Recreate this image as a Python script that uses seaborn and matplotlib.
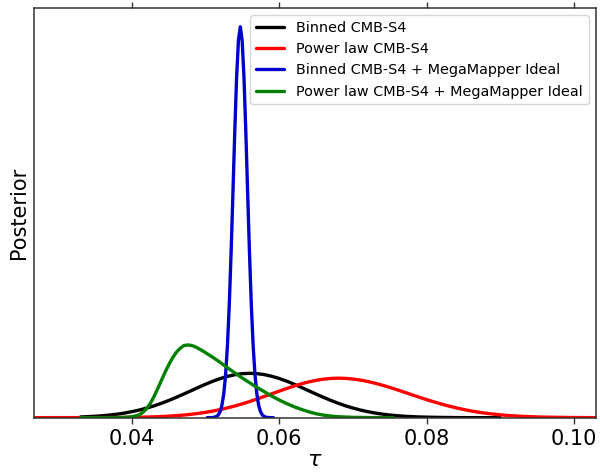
import numpy as np
import pandas as pd
import matplotlib
matplotlib.use("Agg")
import matplotlib.pyplot as plt
import seaborn as sns

# ---- data (posterior, normalised to blue peak) ----
labels = ["Binned CMB-S4", "Power law CMB-S4",
          "Binned CMB-S4 + MegaMapper Ideal",
          "Power law CMB-S4 + MegaMapper Ideal"]
colors = ["black", "red", "#0000cc", "green"]

black_x = [0.033 + 0.001 * i for i in range(58)]
black_y = [0.0018, 0.0026, 0.0036, 0.0050, 0.0068, 0.0090, 0.0119, 0.0154, 0.0196, 0.0246,
           0.0303, 0.0369, 0.0441, 0.0520, 0.0603, 0.0688, 0.0774, 0.0857, 0.0934, 0.1002,
           0.1058, 0.1100, 0.1126, 0.1135, 0.1126, 0.1100, 0.1058, 0.1002, 0.0934, 0.0857,
           0.0774, 0.0688, 0.0603, 0.0520, 0.0441, 0.0369, 0.0303, 0.0246, 0.0196, 0.0154,
           0.0119, 0.0090, 0.0068, 0.0050, 0.0036, 0.0026, 0.0018, 0.0013, 0.0009, 0.0006,
           0.0004, 0.0002, 0.0001, 0.0, 0.0, 0.0, 0.0, 0.0]

red_x = [0.0267] + [0.036 + 0.001 * i for i in range(65)] + [0.103]
red_y = [0.0,
         0.0002, 0.0003, 0.0004, 0.0006, 0.0008, 0.0011, 0.0016, 0.0021, 0.0029, 0.0039,
         0.0051, 0.0066, 0.0086, 0.0109, 0.0137, 0.0170, 0.0208, 0.0252, 0.0301, 0.0356,
         0.0415, 0.0479, 0.0545, 0.0613, 0.0680, 0.0746, 0.0809, 0.0866, 0.0915, 0.0955,
         0.0985, 0.1004, 0.1010, 0.1005, 0.0988, 0.0962, 0.0926, 0.0882, 0.0831, 0.0774,
         0.0714, 0.0651, 0.0587, 0.0524, 0.0462, 0.0404, 0.0349, 0.0298, 0.0252, 0.0211,
         0.0174, 0.0142, 0.0115, 0.0092, 0.0073, 0.0057, 0.0044, 0.0034, 0.0026, 0.0019,
         0.0014, 0.0011, 0.0008, 0.0005, 0.0004,
         0.0]

blue_x = [0.0502 + 0.00025 * i for i in range(37)]
blue_y = [0.0, 0.0, 0.0001, 0.0004, 0.0011, 0.0029, 0.0068, 0.0151, 0.0313, 0.0605,
          0.109, 0.183, 0.287, 0.421, 0.575, 0.732, 0.871, 0.966, 1.0,
          0.966, 0.871, 0.732, 0.575, 0.421, 0.287, 0.183, 0.109, 0.0605, 0.0313,
          0.0151, 0.0068, 0.0029, 0.0011, 0.0004, 0.0001, 0.0, 0.0]

green_x = [0.033, 0.036, 0.038, 0.039, 0.0395, 0.040, 0.0405, 0.041, 0.0415, 0.042,
           0.0425, 0.043, 0.0435, 0.044, 0.0445, 0.045, 0.0455, 0.046, 0.0465, 0.047,
           0.0475, 0.048, 0.0485, 0.049, 0.0495, 0.050, 0.051, 0.052, 0.053, 0.054,
           0.055, 0.056, 0.057, 0.058, 0.059, 0.060, 0.061, 0.062, 0.063, 0.064,
           0.065, 0.066, 0.067, 0.068, 0.069, 0.070, 0.072, 0.0755]
green_y = [0.0, 0.0, 0.0003, 0.0008, 0.0015, 0.0025, 0.0045, 0.0075, 0.014, 0.024,
           0.037, 0.055, 0.075, 0.096, 0.117, 0.136, 0.153, 0.167, 0.177, 0.184,
           0.186, 0.185, 0.182, 0.177, 0.172, 0.166, 0.154, 0.141, 0.127, 0.114,
           0.101, 0.089, 0.077, 0.066, 0.055, 0.045, 0.036, 0.028, 0.021, 0.015,
           0.010, 0.0065, 0.004, 0.0025, 0.0015, 0.0008, 0.0003, 0.0]

xticks = [0.04, 0.06, 0.08, 0.10]
xtick_labels = ["0.04", "0.06", "0.08", "0.10"]

# ---- plot ----
sns.set_style("white")
plt.rcParams["font.family"] = ["DejaVu Sans"]
plt.rcParams["text.color"] = "black"
plt.rcParams["axes.labelcolor"] = "black"
plt.rcParams["xtick.color"] = "black"

fig = plt.figure(figsize=(6.0, 4.73), dpi=100)
ax = fig.add_axes([0.057, 0.117, 0.936, 0.866])

series = [(black_x, black_y), (red_x, red_y), (blue_x, blue_y), (green_x, green_y)]
for (xs, ys), lab, col in zip(series, labels, colors):
    df = pd.DataFrame({"tau": xs, "post": ys})
    sns.lineplot(data=df, x="tau", y="post", ax=ax, color=col, lw=2.4,
                 label=lab, sort=False, estimator=None)

ax.set_xlim(0.0267, 0.103)
ax.set_ylim(0, 1.0 * 1.048)
ax.set_xticks(xticks)
ax.set_xticklabels(xtick_labels)
ax.set_yticks([])
ax.tick_params(axis="x", which="both", direction="out", length=4.5, width=1,
               top=True, bottom=True, labelsize=15, colors="#333333", labelcolor="black")
for sp in ax.spines.values():
    sp.set_visible(True)
    sp.set_color("#333333")
    sp.set_linewidth(1.1)
ax.set_xlabel(r"$\tau$", fontsize=16, labelpad=1)
ax.set_ylabel("Posterior", fontsize=15, labelpad=4)

leg = ax.legend(loc="upper right", fontsize=10.4, frameon=True, borderaxespad=0.5)
leg.get_frame().set_edgecolor("#cccccc")
for t in leg.get_texts():
    t.set_color("black")

fig.savefig("out.png", dpi=100)
